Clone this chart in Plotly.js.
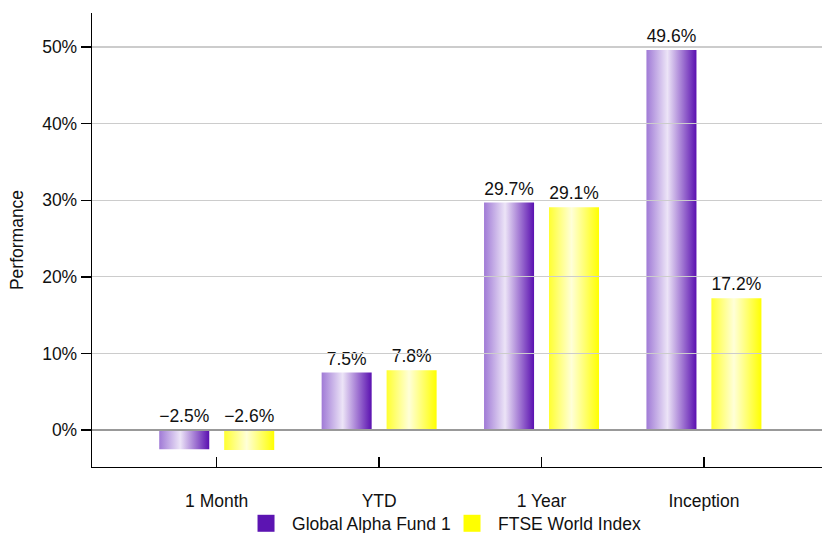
<!DOCTYPE html>
<html>
<head>
<meta charset="utf-8">
<script src="https://cdn.plot.ly/plotly-3.0.1.min.js"></script>
<style>
  html, body { margin: 0; padding: 0; background: #fff; }
  #chart { width: 822px; height: 533px; }
</style>
</head>
<body>
<div id="chart"></div>
<script>
const categories = ['1 Month', 'YTD', '1 Year', 'Inception'];
const fundName = 'Global Alpha Fund 1';
const indexName = 'FTSE World Index';
const fundValues = [-2.5, 7.5, 29.7, 49.6];
const indexValues = [-2.6, 7.8, 29.1, 17.2];
const yTickVals = [0, 10, 20, 30, 40, 50];
const yTickText = ['0%', '10%', '20%', '30%', '40%', '50%'];

const FONT = 'Liberation Sans, Arial, Helvetica, sans-serif';
const FS = 17.5;
const purple = '#5c14b2';
const yellow = '#ffff00';

function barTrace(name, values, color, group) {
  return {
    type: 'bar', name: name, x: categories, y: values,
    offsetgroup: group,
    marker: { color: color, line: { width: 0 } },
    hoverinfo: 'skip'
  };
}
function labelTrace(values, group) {
  return {
    type: 'scatter', mode: 'markers+text', x: categories,
    y: values.map(v => Math.max(v, 0)),
    text: values.map(v => (v < 0 ? '\u2212' : '') + Math.abs(v).toFixed(1) + '%'),
    textposition: 'top center',
    textfont: { family: FONT, size: FS, color: '#111' },
    marker: { size: 4, color: 'rgba(0,0,0,0)', line: { width: 0 } },
    offsetgroup: group,
    showlegend: false, hoverinfo: 'skip', cliponaxis: false
  };
}

const data = [
  barTrace(fundName, fundValues, purple, 'a'),
  barTrace(indexName, indexValues, yellow, 'b'),
  labelTrace(fundValues, 'a'),
  labelTrace(indexValues, 'b')
];

const layout = {
  width: 822, height: 533,
  margin: { l: 92, r: 0, t: 13, b: 66 },
  paper_bgcolor: '#fff', plot_bgcolor: '#fff',
  font: { family: FONT, size: FS, color: '#111' },
  barmode: 'group', bargap: 0.2, bargroupgap: 0.23,
  scattermode: 'group', scattergap: 0.2,
  showlegend: true,
  legend: {
    orientation: 'h', xref: 'container', yref: 'container',
    x: 0.3066, xanchor: 'left', y: 0.018, yanchor: 'middle',
    entrywidth: 161,
    font: { family: FONT, size: FS, color: '#111' },
    bgcolor: 'rgba(0,0,0,0)'
  },
  xaxis: {
    type: 'category', range: [-0.768, 3.727],
    showline: true, linecolor: '#000', linewidth: 1.3,
    ticks: 'inside', ticklen: 10, tickcolor: '#000', tickwidth: 1.3,
    showgrid: false, zeroline: false,
    tickfont: { family: FONT, size: FS, color: '#111' },
    ticklabelstandoff: 18
  },
  yaxis: {
    range: [-4.82, 54.44],
    tickvals: yTickVals, ticktext: yTickText,
    showline: true, linecolor: '#000', linewidth: 1.3,
    ticks: 'outside', ticklen: 10, tickcolor: '#000', tickwidth: 1.3,
    showgrid: true, gridcolor: '#cccccc', gridwidth: 1.2,
    zeroline: true, zerolinecolor: '#999999', zerolinewidth: 1.5,
    tickfont: { family: FONT, size: FS, color: '#111' },
    title: { text: 'Performance', font: { family: FONT, size: FS, color: '#111' }, standoff: 14 }
  }
};

Plotly.newPlot('chart', data, layout, { displayModeBar: false, staticPlot: true }).then(gd => {
  const NS = 'http://www.w3.org/2000/svg';
  const svg = gd.querySelector('svg.main-svg');
  let defs = svg.querySelector('defs');
  if (!defs) { defs = document.createElementNS(NS, 'defs'); svg.insertBefore(defs, svg.firstChild); }
  function grad(id, stops) {
    const g = document.createElementNS(NS, 'linearGradient');
    g.setAttribute('id', id);
    g.setAttribute('x1', '0'); g.setAttribute('y1', '0');
    g.setAttribute('x2', '1'); g.setAttribute('y2', '0');
    stops.forEach(([o, c]) => {
      const s = document.createElementNS(NS, 'stop');
      s.setAttribute('offset', o); s.setAttribute('stop-color', c);
      g.appendChild(s);
    });
    defs.appendChild(g);
  }
  grad('gradPurple', [['0', '#a07ad6'], ['0.42', '#ece4f7'], ['1', '#5a10b0']]);
  grad('gradYellow', [['0', '#ffff30'], ['0.45', '#ffffd8'], ['1', '#ffff00']]);
  const barTraces = gd.querySelectorAll('.barlayer .trace.bars');
  const ids = ['gradPurple', 'gradYellow'];
  barTraces.forEach((t, i) => {
    t.querySelectorAll('.point path').forEach(p => { p.style.fill = 'url(#' + ids[i] + ')'; });
  });
  // gridlines drawn above bars as in reference
  const gl = gd.querySelector('.cartesianlayer .gridlayer');
  if (gl) gl.parentNode.appendChild(gl);
  const zl = gd.querySelector('.cartesianlayer .zerolinelayer');
  if (zl) zl.parentNode.appendChild(zl);
  // larger legend swatches, slightly left of the default centre
  gd.querySelectorAll('.legend .traces').forEach(tr => {
    tr.querySelectorAll('.legendpoints path').forEach(p => {
      p.setAttribute('d', 'M8.5,8.5H-8.5V-8.5H8.5Z');
      p.setAttribute('transform', 'translate(14,0)');
    });
  });
});
</script>
</body>
</html>
